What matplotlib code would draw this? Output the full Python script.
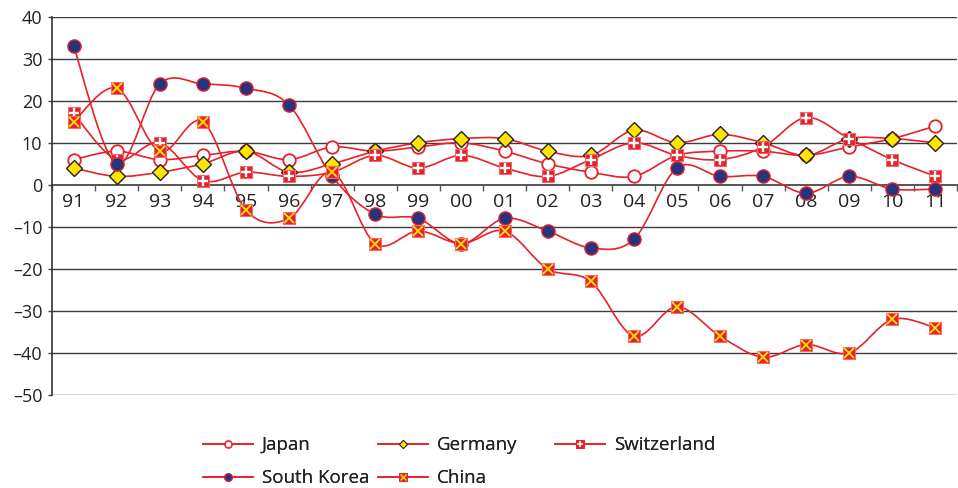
import matplotlib
matplotlib.use("Agg")
import matplotlib.pyplot as plt
from matplotlib.path import Path
from matplotlib.patches import PathPatch
from matplotlib.lines import Line2D
from matplotlib.legend_handler import HandlerTuple
import numpy as np

plt.rcParams["font.family"] = ["Open Sans", "DejaVu Sans"]

years = ["91", "92", "93", "94", "95", "96", "97", "98", "99", "00", "01",
         "02", "03", "04", "05", "06", "07", "08", "09", "10", "11"]

japan = [6, 8, 6, 7, 8, 6, 9, 8, 9, 10, 8, 5, 3, 2, 7, 8, 8, 7, 9, 11, 14]
germany = [4, 2, 3, 5, 8, 3, 5, 8, 10, 11, 11, 8, 7, 13, 10, 12, 10, 7, 11, 11, 10]
switzerland = [17, 6, 10, 1, 3, 2, 3, 7, 4, 7, 4, 2, 6, 10, 7, 6, 9, 16, 11, 6, 2]
south_korea = [33, 5, 24, 24, 23, 19, 2, -7, -8, -14, -8, -11, -15, -13, 4, 2, 2, -2, 2, -1, -1]
china = [15, 23, 8, 15, -6, -8, 3, -14, -11, -14, -11, -20, -23, -36, -29, -36, -41, -38, -40, -32, -34]

y_ticks = [40, 30, 20, 10, 0, -10, -20, -30, -40, -50]
y_tick_labels = ["40", "30", "20", "10", "0", "–10", "–20", "–30", "–40", "–50"]

RED = "#E8202A"
NAVY = "#26337F"
YELLOW = "#FFE500"


def smooth_path(xs, ys):
    """Cubic Bezier path through the points (Catmull-Rom style smoothing)."""
    pts = np.column_stack([xs, ys]).astype(float)
    n = len(pts)
    verts = [pts[0]]
    codes = [Path.MOVETO]
    for i in range(n - 1):
        p0 = pts[i - 1] if i > 0 else pts[i]
        p1 = pts[i]
        p2 = pts[i + 1]
        p3 = pts[i + 2] if i + 2 < n else pts[i + 1]
        c1 = p1 + (p2 - p0) / 6.0
        c2 = p2 - (p3 - p1) / 6.0
        verts += [c1, c2, p2]
        codes += [Path.CURVE4] * 3
    return Path(verts, codes)


fig = plt.figure(figsize=(9.58, 4.88), dpi=100)
ax = fig.add_axes([0.0543, 0.1906, 0.9447, 0.7752])

x = np.arange(len(years))

# value range and horizontal grid
ax.set_ylim(-50, 40)
ax.set_xlim(-0.5, len(years) - 0.5)
for yv in y_ticks:
    if yv != 0:
        ax.axhline(yv, color="#3c3c3c", lw=1.0, zorder=1)

ax.set_yticks(y_ticks)
ax.set_yticklabels(y_tick_labels, fontsize=13, color="#222222")
ax.tick_params(axis="y", length=3, width=1, color="#444444", pad=4)

# category axis sits on the zero line
ax.spines["bottom"].set_position(("data", 0))
ax.spines["bottom"].set_color("#555555")
ax.spines["bottom"].set_linewidth(1.4)
ax.spines["bottom"].set_zorder(2)
ax.spines["left"].set_color("#333333")
ax.spines["left"].set_linewidth(1.2)
ax.spines["top"].set_visible(False)
ax.spines["right"].set_visible(False)
ax.set_xticks(x)
ax.set_xticklabels(years, fontsize=14, color="#222222")
ax.set_xticks(np.arange(-0.5, len(years), 1.0), minor=True)
ax.tick_params(axis="x", which="major", length=0, pad=6)
ax.tick_params(axis="x", which="minor", length=4, width=1, color="#555555", direction="out")

# series
series = [
    ("Japan", japan),
    ("Germany", germany),
    ("Switzerland", switzerland),
    ("South Korea", south_korea),
    ("China", china),
]

z = 3
for name, vals in series:
    ax.add_patch(PathPatch(smooth_path(x, vals), fill=False, edgecolor=RED,
                           lw=1.2, zorder=z))
    if name == "Japan":
        ax.plot(x, vals, ls="none", marker="o", ms=9, mfc="white",
                mec=RED, mew=1.3, zorder=z + 0.5)
    elif name == "Germany":
        ax.plot(x, vals, ls="none", marker="D", ms=8.5, mfc=YELLOW,
                mec="#222222", mew=1.0, zorder=z + 0.5)
    elif name == "Switzerland":
        ax.plot(x, vals, ls="none", marker="s", ms=9, mfc=RED,
                mec="#F06A70", mew=0.8, zorder=z + 0.5)
        ax.plot(x, vals, ls="none", marker="+", ms=6.5, mec="white",
                mew=1.7, zorder=z + 0.6)
    elif name == "South Korea":
        ax.plot(x, vals, ls="none", marker="o", ms=9.5, mfc=NAVY,
                mec=RED, mew=1.0, zorder=z + 0.5)
    elif name == "China":
        ax.plot(x, vals, ls="none", marker="s", ms=9, mfc=RED,
                mec="#F06A70", mew=0.8, zorder=z + 0.5)
        ax.plot(x, vals, ls="none", marker="x", ms=7, mec=YELLOW,
                mew=1.3, zorder=z + 0.6)
    z += 1

# legend: small markers on long red lines, equal-width columns
legend_handles = {
    "Japan": Line2D([], [], color=RED, lw=1.2, marker="o", ms=5, mfc="white", mec=RED, mew=1.0),
    "Germany": Line2D([], [], color=RED, lw=1.2, marker="D", ms=4.5, mfc=YELLOW, mec="#222222", mew=0.7),
    "Switzerland": (Line2D([], [], color=RED, lw=1.2, marker="s", ms=5.5, mfc=RED, mec=RED, mew=0.5),
                    Line2D([], [], ls="none", marker="+", ms=4, mec="white", mew=1.1)),
    "South Korea": Line2D([], [], color=RED, lw=1.2, marker="o", ms=5.5, mfc=NAVY, mec=RED, mew=0.8),
    "China": (Line2D([], [], color=RED, lw=1.2, marker="s", ms=5.5, mfc=RED, mec=RED, mew=0.5),
              Line2D([], [], ls="none", marker="x", ms=3.8, mec=YELLOW, mew=1.0)),
}
columns = [(["Japan", "South Korea"], 0.2120),
           (["Germany", "China"], 0.3945),
           (["Switzerland"], 0.5795)]
for labels, x0 in columns:
    leg = fig.legend([legend_handles[k] for k in labels], labels,
                     loc="upper left", bbox_to_anchor=(x0, 0.1057), ncol=1,
                     frameon=False, fontsize=13.5, handlelength=2.67,
                     handletextpad=0.45, labelspacing=0.8,
                     borderaxespad=0.0, borderpad=0.0,
                     handler_map={tuple: HandlerTuple(ndivide=1, pad=0)})
    for t in leg.get_texts():
        t.set_color("#222222")
    fig.add_artist(leg)

fig.savefig("out.png", dpi=100)
